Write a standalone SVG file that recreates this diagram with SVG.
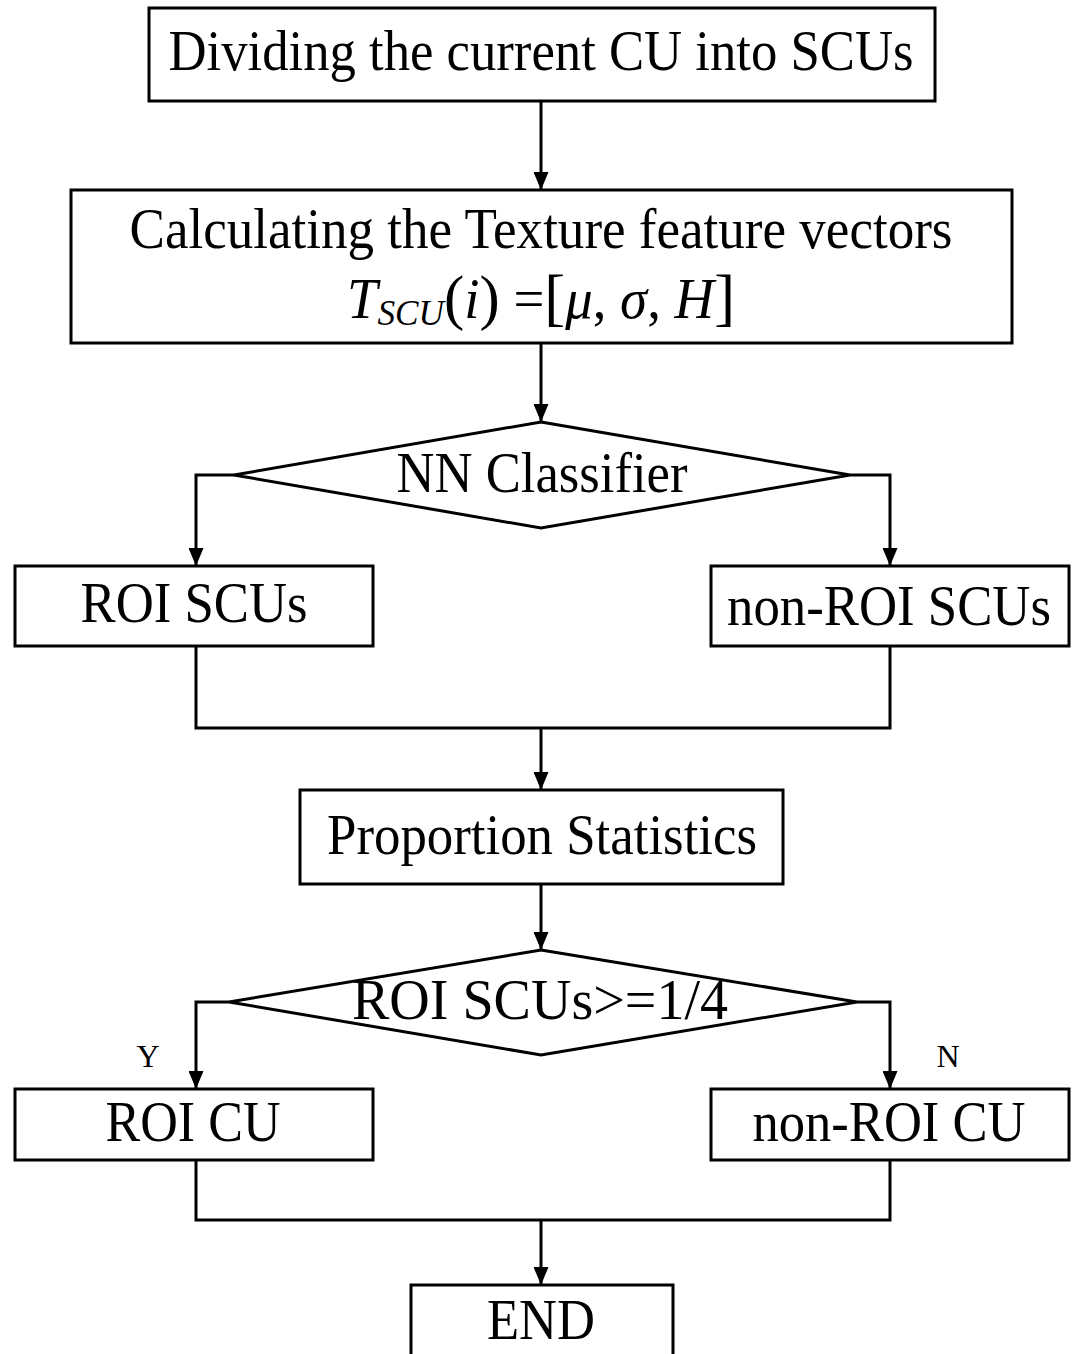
<svg xmlns="http://www.w3.org/2000/svg" width="1076" height="1354" viewBox="0 0 1076 1354">
<style>
.box{fill:#fff;stroke:#000;stroke-width:3}
.ln{fill:none;stroke:#000;stroke-width:3}
.t{font-family:"Liberation Serif","Times New Roman",serif;font-size:56px;fill:#000;text-anchor:middle}
.s{font-family:"Liberation Serif","Times New Roman",serif;font-size:32px;fill:#000;text-anchor:middle}
.i{font-style:italic}
</style>
<defs>
<marker id="ah" viewBox="0 0 12 10" refX="12" refY="5" markerWidth="6" markerHeight="5" orient="auto" markerUnits="strokeWidth">
<path d="M0,0 L12,5 L0,10 z" fill="#000"/>
</marker>
</defs>
<rect width="1076" height="1354" fill="#fff"/>
<g id="connectors">
<path class="ln" d="M541,101 V190" marker-end="url(#ah)"/>
<path class="ln" d="M541,343 V422" marker-end="url(#ah)"/>
<path class="ln" d="M234,475 H196 V566" marker-end="url(#ah)"/>
<path class="ln" d="M850,475 H890 V566" marker-end="url(#ah)"/>
<path class="ln" d="M196,646 V728 H890 V646"/>
<path class="ln" d="M541,728 V790" marker-end="url(#ah)"/>
<path class="ln" d="M541,884 V950" marker-end="url(#ah)"/>
<path class="ln" d="M229,1002 H196 V1089" marker-end="url(#ah)"/>
<path class="ln" d="M857,1002 H890 V1089" marker-end="url(#ah)"/>
<path class="ln" d="M196,1160 V1220 H890 V1160"/>
<path class="ln" d="M541,1220 V1285" marker-end="url(#ah)"/>
<text class="s" x="148" y="1067">Y</text>
<text class="s" x="948" y="1067">N</text>
</g>
<g id="n1">
<rect class="box" x="149" y="8" width="786" height="93"/>
<text class="t" x="541" y="70" textLength="745" lengthAdjust="spacingAndGlyphs">Dividing the current CU into SCUs</text>
</g>
<g id="n2">
<rect class="box" x="71" y="190" width="941" height="153"/>
<text class="t" x="541" y="248" textLength="823" lengthAdjust="spacingAndGlyphs">Calculating the Texture feature vectors</text>
<text class="t" x="347" y="318" style="text-anchor:start" textLength="388" lengthAdjust="spacingAndGlyphs"><tspan class="i">T</tspan><tspan class="i" font-size="36" dy="7">SCU</tspan><tspan dy="-7" font-size="62">(</tspan><tspan class="i">i</tspan><tspan font-size="62">)</tspan><tspan> =</tspan><tspan font-size="64">[</tspan><tspan class="i">μ</tspan><tspan>, </tspan><tspan class="i">σ</tspan><tspan>, </tspan><tspan class="i">H</tspan><tspan font-size="64">]</tspan></text>
</g>
<g id="n3">
<polygon class="box" points="541,422 850,475 541,528 234,475"/>
<text class="t" x="542" y="492" textLength="291" lengthAdjust="spacingAndGlyphs">NN Classifier</text>
</g>
<g id="n4">
<rect class="box" x="15" y="566" width="358" height="80"/>
<text class="t" x="194" y="622" textLength="227" lengthAdjust="spacingAndGlyphs">ROI SCUs</text>
</g>
<g id="n5">
<rect class="box" x="711" y="566" width="358" height="80"/>
<text class="t" x="889" y="625" textLength="324" lengthAdjust="spacingAndGlyphs">non-ROI SCUs</text>
</g>
<g id="n6">
<rect class="box" x="300" y="790" width="483" height="94"/>
<text class="t" x="542" y="854" textLength="430" lengthAdjust="spacingAndGlyphs">Proportion Statistics</text>
</g>
<g id="n7">
<polygon class="box" points="541,950 857,1002 541,1055 229,1002"/>
<text class="t" x="540" y="1019" textLength="376" lengthAdjust="spacingAndGlyphs">ROI SCUs&gt;=1/4</text>
</g>
<g id="n8">
<rect class="box" x="15" y="1089" width="358" height="71"/>
<text class="t" x="193" y="1141" textLength="175" lengthAdjust="spacingAndGlyphs">ROI CU</text>
</g>
<g id="n9">
<rect class="box" x="711" y="1089" width="358" height="71"/>
<text class="t" x="889" y="1141" textLength="273" lengthAdjust="spacingAndGlyphs">non-ROI CU</text>
</g>
<g id="n10">
<rect class="box" x="411" y="1285" width="262" height="80"/>
<text class="t" x="541" y="1339" textLength="108" lengthAdjust="spacingAndGlyphs">END</text>
</g>
</svg>
